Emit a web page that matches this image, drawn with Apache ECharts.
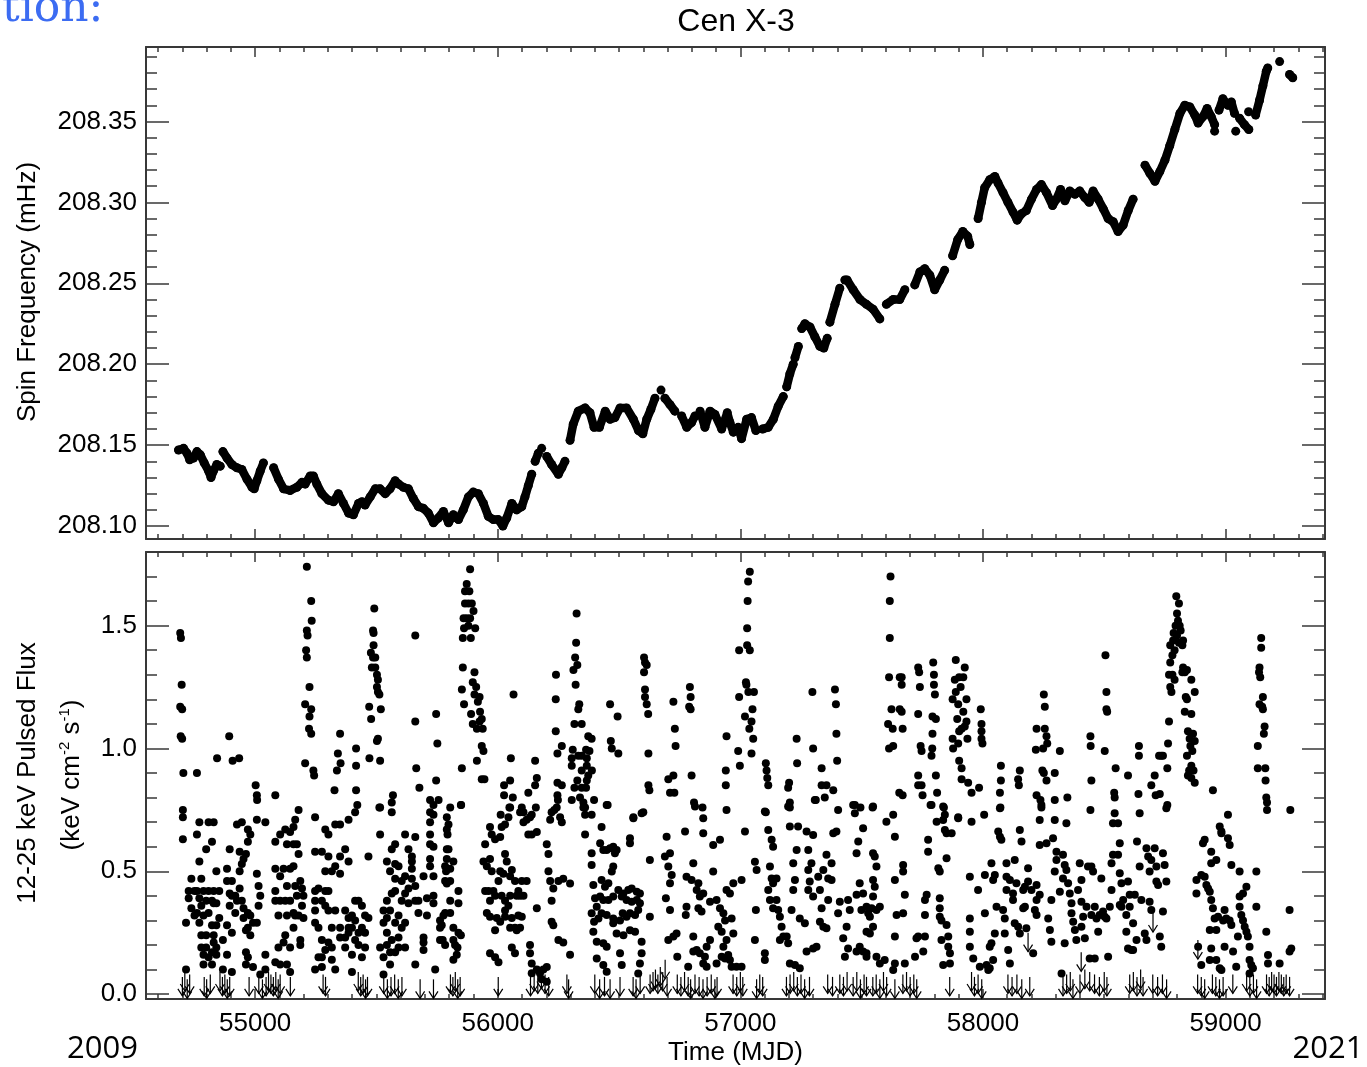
<!DOCTYPE html>
<html>
<head>
<meta charset="utf-8">
<title>Cen X-3</title>
<script src="https://cdn.jsdelivr.net/npm/echarts@6.0.0/dist/echarts.min.js"></script>
<style>
  html, body { margin: 0; padding: 0; background: #ffffff; }
  #chart { width: 1367px; height: 1067px; }
</style>
</head>
<body>
<div id="chart"></div>
<script>
// ---------------- data ----------------
// Time axis range (MJD) and value ranges of the two panels
const mjdRange = [54550, 59410];
const freqRange = [208.092, 208.396];
const fluxRange = [-0.02, 1.80];

// Spin frequency (mHz) vs MJD, one array per continuous stretch of timing solutions
const spinSegments = [
  [[54684,208.147],[54705,208.148],[54719,208.145],[54730,208.141],[54746,208.142],[54760,208.146],[54774,208.144],[54790,208.139],[54808,208.134],[54818,208.130],[54828,208.134],[54842,208.138],[54856,208.137]],
  [[54867,208.146],[54884,208.142],[54904,208.138],[54925,208.136],[54945,208.135],[54966,208.129],[54987,208.124],[54996,208.123],[55007,208.128],[55021,208.134],[55034,208.139]],
  [[55076,208.136],[55096,208.129],[55117,208.123],[55144,208.122],[55172,208.124],[55193,208.127],[55206,208.126],[55227,208.131],[55240,208.131],[55254,208.126],[55275,208.120],[55302,208.116],[55323,208.115],[55343,208.120],[55364,208.114],[55385,208.108],[55405,208.107],[55426,208.114],[55440,208.115],[55453,208.113],[55474,208.118],[55495,208.123],[55515,208.123],[55536,208.120],[55556,208.123],[55577,208.128],[55591,208.126],[55611,208.124],[55632,208.123],[55652,208.117],[55673,208.112],[55693,208.111],[55714,208.108],[55735,208.102],[55755,208.105],[55776,208.109],[55797,208.102],[55817,208.107],[55838,208.104],[55858,208.110],[55879,208.118],[55899,208.121],[55920,208.120],[55941,208.114],[55961,208.106],[55982,208.104],[56002,208.104],[56021,208.100],[56037,208.105],[56058,208.114],[56078,208.110],[56099,208.112],[56112,208.118],[56126,208.125],[56140,208.132]],
  [[56154,208.140],[56167,208.145]],
  [[56181,208.148]],
  [[56202,208.143],[56222,208.138],[56250,208.132],[56264,208.136],[56277,208.140]],
  [[56298,208.153],[56311,208.163],[56332,208.171],[56360,208.173],[56380,208.170],[56397,208.161],[56419,208.161],[56443,208.171],[56463,208.166],[56483,208.167],[56504,208.173],[56531,208.173],[56559,208.166],[56580,208.159],[56598,208.157],[56614,208.166],[56631,208.172],[56648,208.179]],
  [[56673,208.184]],
  [[56689,208.179],[56710,208.175],[56730,208.171]],
  [[56758,208.168],[56779,208.161],[56799,208.164],[56813,208.168]],
  [[56834,208.171],[56854,208.161],[56875,208.171],[56895,208.169],[56923,208.160],[56946,208.170],[56957,208.164],[56971,208.158],[56991,208.161],[57005,208.154],[57026,208.166],[57046,208.167],[57064,208.159]],
  [[57092,208.160],[57115,208.161],[57136,208.166],[57156,208.174],[57177,208.180]],
  [[57191,208.186],[57204,208.194],[57218,208.200]],
  [[57225,208.204],[57239,208.211]],
  [[57253,208.222],[57266,208.225],[57287,208.223],[57307,208.217],[57328,208.211],[57344,208.210],[57358,208.216]],
  [[57369,208.226],[57390,208.237],[57410,208.247]],
  [[57431,208.252],[57440,208.252],[57465,208.246],[57493,208.240],[57520,208.237],[57547,208.234],[57575,208.228]],
  [[57602,208.237],[57630,208.240],[57657,208.240],[57678,208.246]],
  [[57719,208.249],[57740,208.257],[57760,208.259],[57781,208.255],[57801,208.246],[57822,208.252],[57842,208.258]],
  [[57875,208.267],[57896,208.277],[57917,208.282],[57937,208.279],[57946,208.274]],
  [[57980,208.290],[57994,208.300],[58007,208.309],[58028,208.314],[58049,208.316],[58062,208.312],[58083,208.306],[58103,208.300],[58124,208.294],[58141,208.289],[58159,208.293],[58179,208.295],[58200,208.302],[58221,208.308],[58241,208.311],[58262,208.306],[58287,208.298],[58303,208.302],[58320,208.308],[58338,208.301],[58358,208.307],[58379,208.305],[58399,208.307],[58420,208.303],[58438,208.300],[58454,208.307],[58475,208.302],[58496,208.296],[58516,208.290],[58537,208.288],[58557,208.282],[58578,208.286],[58599,208.295],[58619,208.302]],
  [[58668,208.323],[58688,208.318],[58709,208.313],[58729,208.319],[58750,208.326],[58770,208.335],[58791,208.345],[58812,208.355],[58832,208.360],[58853,208.359],[58873,208.354],[58887,208.349],[58907,208.353],[58924,208.358],[58941,208.353],[58955,208.348]],
  [[58955,208.344]],
  [[58973,208.357],[58989,208.364],[59010,208.360],[59024,208.362],[59037,208.355]],
  [[59042,208.344]],
  [[59058,208.352],[59078,208.348],[59096,208.345]],
  [[59095,208.356]],
  [[59124,208.354],[59140,208.363],[59154,208.372],[59168,208.381],[59174,208.383]],
  [[59223,208.387]],
  [[59264,208.379],[59277,208.377]]
];

// 12-25 keV pulsed flux (keV cm^-2 s^-1), [MJD, flux]
const flux2008to2010 = [
  [54691,1.47],[54694,1.45],[54697,1.26],[54691,1.17],[54699,1.16],[54693,1.05],[54699,1.04],[54704,0.90],[54760,0.90],[54843,0.96],[54893,1.05],[54907,0.95],[54934,0.96],[55002,0.85],[55007,0.81],[55008,0.79],[55083,0.81],
  [54702,0.75],[54702,0.72],[54702,0.63],[54715,0.29],[54715,0.10],[54726,0.42],[54726,0.39],[54737,0.47],[54737,0.35],[54750,0.32],[54750,0.42],[54760,0.65],[54760,0.42],[54760,0.33],[54770,0.70],[54770,0.54],[54770,0.39],[54770,0.29],[54778,0.47],[54778,0.36],[54778,0.24],[54778,0.19],[54787,0.42],[54787,0.32],[54787,0.16],[54787,0.12],[54798,0.59],[54798,0.38],[54798,0.24],[54798,0.19],[54808,0.70],[54808,0.42],[54808,0.33],[54808,0.15],[54822,0.62],[54822,0.38],[54822,0.28],[54822,0.17],[54822,0.12],[54829,0.70],[54829,0.42],[54829,0.37],[54829,0.24],[54829,0.21],[54840,0.50],[54840,0.37],[54840,0.28],[54840,0.19],[54840,0.16],[54852,0.42],[54852,0.31],[54867,0.22],[54867,0.10],[54884,0.51],[54884,0.46],[54884,0.28],[54884,0.16],[54895,0.59],[54895,0.41],[54895,0.36],[54904,0.46],[54904,0.40],[54904,0.25],[54904,0.09],[54918,0.40],[54918,0.33],[54925,0.69],[54925,0.38],[54936,0.50],[54936,0.43],[54936,0.58],[54945,0.53],[54945,0.38],[54945,0.70],[54952,0.55],[54952,0.35],[54952,0.31],[54962,0.57],[54962,0.26],[54962,0.12],[54962,0.17],[54970,0.62],[54970,0.67],[54970,0.33],[54970,0.27],[54970,0.15],[54980,0.65],[54980,0.24],[54980,0.32],[54991,0.11],[54991,0.29],
  [55007,0.71],[55007,0.49],[55007,0.29],[55014,0.44],[55014,0.36],[55021,0.40],[55021,0.08],[55042,0.70],[55042,0.16],[55042,0.10],[55083,0.62],[55083,0.51],[55083,0.42],[55083,0.38],[55083,0.13],[55096,0.32],[55096,0.19],[55103,0.65],[55103,0.48],[55103,0.38],[55103,0.12],[55117,0.51],[55117,0.21],[55124,0.67],[55124,0.38],[55124,0.24],[55131,0.61],[55131,0.44],[55131,0.32],[55131,0.12],[55144,0.66],[55144,0.51],[55144,0.38],[55144,0.19],[55144,0.09],[55158,0.68],[55158,0.61],[55158,0.52],[55158,0.33],[55158,0.27],[55165,0.71],[55165,0.44],[55165,0.32],[55172,0.61],[55172,0.40],[55179,0.75],[55179,0.57],[55179,0.32],[55186,0.46],[55186,0.22],[55186,0.20],[55193,0.43],[55193,0.36],[55199,0.40],[55199,0.31],
  [55213,1.74],[55231,1.60],[55233,1.52],[55213,1.48],[55216,1.46],[55210,1.40],[55213,1.37],[55224,1.25],[55206,1.18],[55231,1.16],[55224,1.13],[55222,1.08],[55231,1.06],[55206,0.94],[55240,0.91],[55243,0.89],
  [55247,0.72],[55247,0.58],[55247,0.42],[55247,0.38],[55247,0.34],[55247,0.29],[55247,0.10],[55261,0.43],[55261,0.27],[55261,0.15],[55275,0.58],[55275,0.38],[55275,0.22],[55275,0.15],[55275,0.11],[55289,0.67],[55289,0.50],[55289,0.42],[55289,0.36],[55289,0.18],[55302,0.65],[55302,0.56],[55302,0.42],[55302,0.34],[55302,0.21],[55316,0.50],[55316,0.27],[55316,0.19],[55316,0.14],[55330,0.69],[55330,0.52],[55330,0.34],[55330,0.10],[55350,0.69],[55350,0.56],[55350,0.49],[55350,0.27],[55350,0.23],[55371,0.59],[55371,0.34],[55371,0.23],[55371,0.19],[55385,0.71],[55385,0.54],[55385,0.31],[55385,0.27],[55385,0.25],[55399,0.32],[55399,0.27],[55399,0.16],[55399,0.09],[55412,0.74],[55412,0.38],[55412,0.30],[55412,0.22],[55426,0.38],[55426,0.25],[55426,0.20],[55440,0.36],[55440,0.27],[55440,0.15],[55453,0.32],[55453,0.25],[55453,0.19],[55467,0.56],[55467,0.31],
  [55327,0.83],[55337,0.91],[55341,0.98],[55350,1.06],[55352,0.94],[55416,1.00],[55416,0.93],[55416,0.83],[55421,0.77],
  [55491,1.57],[55486,1.48],[55488,1.47],[55488,1.42],[55477,1.39],[55486,1.37],[55495,1.37],[55481,1.33],[55495,1.33],[55502,1.30],[55506,1.28],[55502,1.25],[55506,1.23],[55512,1.22],[55470,1.17],[55518,1.16],[55478,1.12],[55506,1.04],[55502,1.03],[55471,0.96],[55515,0.95],[55512,0.76]
];

const flux2010to2012 = [
  [55515,0.76],[55515,0.65],[55515,0.19],[55529,0.34],[55529,0.29],[55529,0.15],[55529,0.08],[55543,0.54],[55543,0.38],[55543,0.31],[55543,0.25],[55543,0.20],[55556,0.50],[55556,0.34],[55556,0.17],[55556,0.12],[55563,0.78],[55563,0.74],[55563,0.59],[55563,0.41],[55563,0.22],[55568,0.81],[55577,0.61],[55577,0.53],[55577,0.47],[55577,0.42],[55577,0.29],[55577,0.17],[55591,0.52],[55591,0.32],[55591,0.23],[55591,0.19],[55604,0.46],[55604,0.38],[55604,0.27],[55618,0.65],[55618,0.48],[55618,0.41],[55618,0.29],[55618,0.19],[55632,0.59],[55632,0.43],[55632,0.37],[55646,0.56],[55646,0.54],[55646,0.51],[55646,0.47],
  [55660,1.46],[55660,1.11],[55664,0.92],[55677,0.84],[55660,0.64],[55660,0.44],[55660,0.38],[55660,0.12],[55673,0.38],[55673,0.33],[55694,0.48],[55694,0.23],[55694,0.21],[55694,0.18],[55708,0.39],[55708,0.32],[55721,0.79],[55721,0.74],[55721,0.70],[55721,0.65],[55721,0.61],[55721,0.55],[55721,0.52],[55735,0.77],[55735,0.73],[55735,0.60],[55735,0.48],[55735,0.40],[55735,0.37],[55742,0.10],[55746,1.14],[55751,1.02],[55746,0.87],[55756,0.79],[55762,0.30],[55762,0.27],[55762,0.22],[55776,0.32],[55769,0.28],[55773,0.22],[55783,0.52],[55783,0.33],[55783,0.20],[55790,0.72],[55790,0.67],[55790,0.59],[55790,0.45],[55797,0.69],[55793,0.65],[55797,0.59],[55790,0.55],[55787,0.50],[55783,0.46],[55804,0.51],[55804,0.46],[55804,0.38],[55804,0.33],[55804,0.76],[55817,0.54],[55817,0.22],[55817,0.14],[55817,0.27],[55838,0.25],[55848,0.24],[55824,0.20],[55834,0.19],[55831,0.16],[55838,0.42],[55838,0.37],[55848,0.77],
  [55886,1.73],[55872,1.67],[55865,1.64],[55883,1.64],[55865,1.59],[55879,1.59],[55893,1.59],[55900,1.56],[55859,1.53],[55872,1.53],[55886,1.53],[55861,1.49],[55879,1.50],[55907,1.49],[55856,1.45],[55889,1.45],[55856,1.33],[55852,1.24],[55861,1.18],[55904,1.31],[55897,1.27],[55911,1.25],[55925,1.21],[55904,1.22],[55918,1.19],[55890,1.14],[55927,1.15],[55925,1.11],[55934,1.12],[55938,1.08],[55897,1.10],[55914,1.08],[55934,1.01],[55941,0.99],[55914,0.95],[55934,0.875],[55945,0.875],[55852,0.92],[55849,0.77],
  [55948,0.61],[55968,0.68],[55975,0.65],[55989,0.63],[56010,0.64],[56016,0.68],[56030,0.69],[56044,0.72],[56051,0.76],[56092,0.74],[56106,0.70],[56119,0.71],[56133,0.72],[56099,0.76],[56126,0.65],[56140,0.65],[56161,0.66],
  [55941,0.54],[55955,0.52],[55968,0.55],[55975,0.50],[55948,0.42],[55962,0.42],[55982,0.42],[56003,0.46],[56010,0.50],[56023,0.49],[56030,0.57],[56037,0.54],[56051,0.48],[56058,0.505],[56071,0.46],[56085,0.42],[56099,0.46],[56119,0.46],[56092,0.40],[56106,0.40],[56078,0.40],[56051,0.40],[56030,0.38],[56016,0.40],[55989,0.40],[55968,0.38],[55955,0.33],[55968,0.315],[55996,0.31],[56010,0.295],[56030,0.315],[56058,0.31],[56085,0.32],[56099,0.315],[56071,0.27],[56051,0.27],[56078,0.26],[56092,0.27],[55989,0.26],[56030,0.34],[56044,0.36],
  [55968,0.166],[55989,0.15],[56003,0.13],[56058,0.19],[56071,0.166],[56133,0.20],[56133,0.166],[56140,0.125],[56140,0.085],[56161,0.35],[56202,0.61],[56209,0.57],[56209,0.50],[56216,0.46],[56229,0.43],[56222,0.38],[56222,0.295],[56229,0.28],[56250,0.46],[56270,0.47],[56298,0.45],[56250,0.22],[56270,0.21],[56298,0.16],[56161,0.10],[56174,0.085],[56188,0.10],[56202,0.11],[56181,0.06],[56202,0.05],
  [56065,1.22],[56054,0.96],[56051,0.87],[56026,0.85],[56026,0.81],[56062,0.80],[56048,0.76],[56012,0.73],[56126,0.82],[56154,0.95],[56161,0.88],[56154,0.85],[56157,0.76],[56106,0.74],[56140,0.73],
  [56240,1.30],[56239,1.20],[56239,1.07],[56246,0.98],[56264,1.01],[56246,0.86],[56264,0.85],[56246,0.81],[56248,0.79],[56233,0.75],
  [56216,0.71],[56257,0.72],[56243,0.76],[56264,0.70],[56222,0.74],[56353,0.76],[56360,0.73],[56387,0.73],[56360,0.65],[56428,0.68],[56449,0.77],
  [56325,1.55],[56323,1.43],[56319,1.37],[56328,1.34],[56312,1.32],[56321,1.26],[56336,1.18],[56332,1.16],[56316,1.10],[56346,1.10],[56373,1.05],[56387,1.04],[56364,0.995],[56378,0.99],[56309,0.995],[56305,0.96],[56305,0.93],[56332,0.97],[56346,0.97],[56367,0.96],[56367,0.93],[56388,0.91],[56346,0.91],[56373,0.89],[56367,0.87],[56364,0.84],[56328,0.87],[56316,0.84],[56346,0.84],[56305,0.79],[56339,0.80],[56353,0.78],[56360,0.76],[56397,0.79],[56453,0.77],
  [56387,0.573],[56387,0.526],[56394,0.444],[56401,0.39],[56408,0.356],[56387,0.329],[56415,0.308],[56397,0.295],[56394,0.254],[56408,0.213],[56435,0.207],[56408,0.145],[56449,0.193],[56435,0.118],[56449,0.091],[56422,0.614],[56435,0.587],[56449,0.587],[56463,0.594],[56476,0.60],[56490,0.587],[56483,0.573],[56428,0.465],[56442,0.4375],[56456,0.451],[56470,0.499],[56476,0.519],[56422,0.397],[56435,0.383],[56456,0.383],[56476,0.397],[56497,0.424],[56428,0.329],[56449,0.322],[56476,0.308],[56476,0.288],[56490,0.247]
];

const flux2013to2016 = [
  [56463,1.18],[56494,1.13],[56466,1.03],[56470,1.00],[56497,0.98],
  [56511,0.397],[56518,0.41],[56538,0.424],[56552,0.43],[56573,0.417],[56504,0.30],[56515,0.329],[56531,0.315],[56545,0.329],[56566,0.322],[56579,0.342],[56531,0.383],[56552,0.376],[56573,0.383],[56518,0.24],[56545,0.26],[56566,0.254],[56504,0.166],[56511,0.118],[56545,0.634],[56545,0.614],[56559,0.716],[56593,0.736],[56627,0.546],[56627,0.315],[56586,0.37],[56586,0.41],[56593,0.213],[56593,0.166],[56586,0.125],[56579,0.084],
  [56603,1.37],[56607,1.35],[56614,1.34],[56603,1.31],[56607,1.24],[56607,1.21],[56614,1.18],[56620,1.14],[56621,0.98],[56621,0.85],[56625,0.83],[56600,0.74],[56559,0.72],
  [56724,1.19],[56730,1.08],[56733,1.01],[56724,0.89],[56703,0.875],[56710,0.82],[56728,0.82],[56792,1.25],[56795,1.21],[56789,1.17],[56795,1.16],[56799,0.89],[56809,0.78],[56844,0.76],[56943,1.05],[56940,0.91],[56940,0.85],[56943,0.75],
  [56696,0.641],[56689,0.56],[56710,0.573],[56703,0.519],[56717,0.485],[56710,0.451],[56710,0.342],[56693,0.39],[56724,0.234],[56703,0.22],[56737,0.247],[56740,0.152],[56772,0.662],[56778,0.478],[56799,0.465],[56806,0.533],[56778,0.356],[56775,0.322],[56827,0.451],[56820,0.424],[56833,0.397],[56847,0.41],[56827,0.349],[56840,0.336],[56806,0.234],[56820,0.179],[56833,0.166],[56854,0.152],[56861,0.193],[56875,0.22],[56806,0.173],[56847,0.125],[56861,0.111],[56785,0.111],[56813,0.764],[56847,0.716],[56847,0.655],[56888,0.607],[56916,0.628],[56888,0.499],[56875,0.376],[56902,0.383],[56916,0.349],[56930,0.329],[56909,0.274],[56923,0.254],[56937,0.30],[56943,0.424],[56957,0.41],[56971,0.451],[56964,0.308],[56971,0.247],[56943,0.22],[56930,0.193],[56937,0.145],[56902,0.125],[56923,0.152],[56950,0.159],[56957,0.139],[56964,0.111],[56984,0.111],[57005,0.111],[57005,0.465],[57019,0.662],
  [57039,1.72],[57032,1.68],[57030,1.60],[57028,1.49],[56995,1.40],[57028,1.42],[57039,1.40],[57023,1.27],[57025,1.26],[56995,1.21],[57033,1.23],[57056,1.23],[57050,1.16],[57019,1.13],[57046,1.11],[57037,1.08],[57053,1.04],[57046,0.98],[56991,0.99],[56998,0.93],
  [57105,0.94],[57108,0.91],[57111,0.88],[57115,0.85],[57105,0.74],
  [57060,0.539],[57067,0.505],[57064,0.342],[57060,0.22],[57101,0.166],[57101,0.139],[57101,0.743],[57115,0.668],[57129,0.628],[57135,0.60],[57122,0.519],[57129,0.471],[57135,0.451],[57115,0.424],[57122,0.383],[57135,0.349],[57149,0.383],[57156,0.342],[57163,0.315],[57170,0.274],[57177,0.234],[57163,0.22],[57191,0.234],[57197,0.207],[57149,0.471],
  [57232,1.04],[57234,0.94],[57201,0.86],[57197,0.84],[57204,0.78],[57204,0.76],[57297,1.23],[57300,1.00],[57335,0.92],[57335,0.85],[57355,0.85],[57311,0.79],[57348,0.80],[57390,1.24],[57394,1.18],[57396,1.06],[57399,0.95],[57383,0.83],[57403,0.75],
  [57197,0.764],[57204,0.682],[57238,0.682],[57232,0.587],[57218,0.533],[57225,0.465],[57218,0.424],[57211,0.342],[57245,0.308],[57266,0.288],[57273,0.173],[57300,0.186],[57314,0.193],[57225,0.118],[57204,0.125],[57245,0.105],[57273,0.662],[57280,0.587],[57300,0.648],[57307,0.79],[57293,0.533],[57280,0.505],[57286,0.458],[57280,0.424],[57300,0.397],[57321,0.478],[57328,0.424],[57342,0.505],[57355,0.567],[57376,0.533],[57362,0.471],[57383,0.655],[57362,0.383],[57335,0.349],[57328,0.295],[57342,0.274],[57355,0.268],[57376,0.465],[57396,0.662],[57403,0.329],[57410,0.376],
  [57424,0.227],[57431,0.152],[57444,0.186],[57438,0.274],[57451,0.342],[57444,0.383],[57465,0.77],[57472,0.736],[57479,0.573],[57479,0.404],[57486,0.621],[57492,0.451],[57499,0.342],[57506,0.675],[57506,0.41],[57520,0.356],[57527,0.329],[57534,0.315],[57541,0.349],[57547,0.764],[57547,0.573],[57554,0.56],[57561,0.519],[57547,0.465],[57554,0.4375],[57561,0.342],[57575,0.356],[57547,0.397],[57547,0.274],[57561,0.152],[57575,0.125],[57595,0.139],[57602,0.702],[57630,0.73],[57637,0.641],[57637,0.465],[57644,0.322],[57637,0.234],[57520,0.254],[57534,0.247],[57479,0.173],[57506,0.173],[57520,0.166],[57492,0.193],[57520,0.152],[57630,0.098],[57637,0.125],
  [57472,0.77],[57495,0.76],[57545,0.76],
  [57619,1.70],[57616,1.60],[57616,1.45],[57613,1.29],[57623,1.16],[57609,1.10],[57628,1.08],[57613,1.00],[57630,1.01],[57657,1.29],[57657,1.16],[57655,0.82]
];

const flux2016to2018 = [
  [57665,1.29],[57665,1.26],[57665,1.15],[57669,1.08],[57669,0.81],[57733,1.33],[57737,1.31],[57740,1.25],[57733,1.14],[57743,1.01],[57747,0.99],[57733,0.89],[57733,0.85],[57747,0.85],[57751,0.81],
  [57795,1.35],[57798,1.30],[57798,1.26],[57802,1.22],[57792,1.13],[57806,1.12],[57792,1.06],[57791,1.00],[57788,0.97],[57806,0.89],[57811,0.82],[57784,0.77],[57839,0.76],[57843,0.73],
  [57888,1.36],[57884,1.28],[57902,1.29],[57919,1.29],[57925,1.33],[57908,1.25],[57888,1.23],[57875,1.20],[57898,1.18],[57932,1.20],[57919,1.15],[57932,1.11],[57894,1.12],[57902,1.07],[57912,1.08],[57925,1.09],[57936,1.04],[57875,1.04],[57877,1.00],[57898,1.02],[57902,0.95],[57912,0.92],[57912,0.875],[57939,0.86],[57953,0.82],[57898,0.72],
  [57991,1.16],[57994,1.10],[57994,1.07],[57994,1.04],[57998,1.02],[57984,0.84],[58005,0.73],[58070,0.82],[58074,0.87],[58074,0.93],[58072,0.76],[58145,0.875],[58152,0.91],[58148,0.85],
  [57671,0.526],[57671,0.499],[57678,0.404],[57671,0.329],[57678,0.125],[57720,0.152],[57726,0.227],[57733,0.234],[57754,0.173],[57761,0.234],[57761,0.322],[57761,0.383],[57768,0.404],[57774,0.58],[57774,0.628],[57788,0.77],[57809,0.702],[57816,0.512],[57822,0.499],[57822,0.39],[57822,0.349],[57822,0.315],[57829,0.30],[57836,0.764],[57836,0.709],[57843,0.668],[57850,0.281],[57829,0.22],[57836,0.118],[57857,0.193],[57857,0.234],[57864,0.166],[57864,0.125],[57850,0.655],[57871,0.655],[57898,0.716],[57850,0.553],
  [57946,0.478],[57946,0.308],[57946,0.254],[57946,0.193],[57953,0.702],[57960,0.145],[57980,0.424],[57987,0.111],[58008,0.485],[58008,0.329],[58015,0.118],[58022,0.098],[58028,0.105],[58028,0.193],[58035,0.207],[58042,0.139],[58042,0.465],[58049,0.485],[58035,0.533],[58056,0.356],[58049,0.247],[58063,0.662],[58070,0.641],[58070,0.757],[58076,0.628],[58083,0.342],[58097,0.533],[58097,0.478],[58097,0.424],[58090,0.308],[58090,0.247],[58104,0.179],[58111,0.125],[58111,0.465],[58124,0.41],[58124,0.383],[58131,0.546],[58131,0.288],[58138,0.451],[58145,0.274],[58152,0.247],[58152,0.668],[58159,0.621],[58166,0.424],[58173,0.4375],[58166,0.349],[58173,0.356],[58179,0.268],[58186,0.512],[58186,0.458],[58200,0.424],[58207,0.166],
  [58221,1.08],[58218,0.995],[58251,1.22],[58255,1.17],[58255,1.08],[58262,1.05],[58265,1.02],[58248,1.00],[58317,0.99],[58245,0.91],[58251,0.90],[58262,0.87],[58296,0.90],[58221,0.81],[58237,0.79],[58241,0.76],[58296,0.79],[58348,0.80],
  [58221,0.444],[58221,0.383],[58214,0.342],[58221,0.322],[58234,0.404],[58234,0.709],[58234,0.607],[58241,0.77],[58262,0.614],[58269,0.308],[58276,0.261],[58282,0.383],[58282,0.213],[58289,0.634],[58296,0.709],[58296,0.499],[58303,0.546],[58303,0.58],[58317,0.417],[58324,0.084],[58330,0.567],[58330,0.471],[58337,0.526],[58337,0.207],[58344,0.696],[58344,0.505],[58351,0.451],[58358,0.41],[58365,0.37],[58365,0.329],[58372,0.295],[58379,0.261],[58385,0.22],[58392,0.424],[58399,0.533],[58406,0.465],[58406,0.376],[58406,0.274],[58413,0.315],[58420,0.227],[58427,0.356],[58433,0.519],[58440,0.145],[58447,0.322],[58447,0.519],[58454,0.499],[58461,0.356],[58461,0.145],[58468,0.308],[58475,0.254],[58481,0.322],[58488,0.471],[58495,0.336]
];

const flux2019to2021 = [
  [58443,1.05],[58444,1.01],[58447,0.87],[58443,0.75],[58505,1.38],[58509,1.23],[58509,1.16],[58512,1.15],[58502,0.99],[58547,0.92],[58541,0.82],[58543,0.80],[58598,0.89],[58643,1.01],[58643,0.97],[58641,0.815],
  [58694,0.85],[58708,0.89],[58712,0.81],[58729,0.815],[58726,0.97],[58735,0.97],[58742,0.97],[58760,0.92],[58760,0.77],[58763,1.02],[58767,1.11],
  [58797,1.62],[58808,1.59],[58800,1.55],[58804,1.52],[58794,1.50],[58811,1.50],[58786,1.47],[58815,1.48],[58800,1.46],[58784,1.44],[58825,1.44],[58808,1.43],[58772,1.42],[58790,1.40],[58781,1.38],[58822,1.42],[58772,1.35],[58767,1.30],[58781,1.30],[58790,1.28],[58772,1.25],[58777,1.23],[58825,1.33],[58832,1.31],[58822,1.31],[58841,1.32],[58859,1.28],[58873,1.23],[58836,1.21],[58841,1.20],[58832,1.15],[58859,1.14],[58845,1.07],[58866,1.06],[58852,1.04],[58873,1.03],[58855,1.01],[58863,0.99],[58841,0.97],[58859,0.93],[58850,0.91],[58868,0.91],[58845,0.89],[58859,0.88],[58873,0.86],
  [58948,0.83],[59010,0.73],
  [59147,1.45],[59147,1.41],[59140,1.33],[59138,1.31],[59143,1.29],[59154,1.21],[59140,1.18],[59151,1.17],[59154,1.16],[59133,1.01],[59133,0.92],[59164,0.92],[59165,0.87],[59168,0.80],[59171,0.78],[59171,0.75],[59161,1.09],[59158,1.06],[59267,0.75],
  [58502,0.315],[58509,0.308],[58516,0.152],[58523,0.356],[58530,0.533],[58530,0.424],[58536,0.567],[58536,0.696],[58543,0.736],[58557,0.696],[58557,0.567],[58564,0.614],[58564,0.492],[58564,0.363],[58571,0.356],[58571,0.451],[58578,0.383],[58591,0.322],[58591,0.254],[58598,0.458],[58598,0.186],[58605,0.404],[58605,0.356],[58612,0.179],[58619,0.288],[58619,0.179],[58626,0.404],[58633,0.22],[58635,0.621],[58646,0.736],[58646,0.519],[58653,0.383],[58667,0.247],[58674,0.594],[58674,0.22],[58681,0.56],[58687,0.499],[58687,0.376],[58694,0.342],[58694,0.546],[58708,0.594],[58715,0.519],[58715,0.458],[58722,0.444],[58729,0.234],[58735,0.193],[58742,0.336],[58742,0.573],[58749,0.526],[58756,0.458],[58756,0.757],
  [58880,0.465],[58880,0.41],[58887,0.193],[58900,0.485],[58907,0.614],[58914,0.628],[58914,0.478],[58921,0.444],[58928,0.43],[58935,0.417],[58941,0.58],[58941,0.533],[58941,0.383],[58948,0.349],[58955,0.308],[58962,0.546],[58962,0.261],[58969,0.315],[58976,0.682],[58983,0.662],[58983,0.655],[58990,0.30],[58996,0.342],[58996,0.193],[59003,0.308],[59010,0.634],[59017,0.607],[59017,0.30],[59024,0.526],[59024,0.281],[59031,0.173],[59044,0.111],[59051,0.234],[59058,0.499],[59058,0.397],[59058,0.356],[59065,0.322],[59072,0.30],[59079,0.274],[59086,0.254],[59092,0.234],[59099,0.193],[59099,0.139],[59106,0.118],[59127,0.499],[59127,0.356],[59168,0.254],[59175,0.159],[59175,0.125],[59223,0.125],[59264,0.342],[59264,0.173],[59271,0.186],[58935,0.139],[58962,0.139],[58976,0.105],[58983,0.098],[58900,0.118],[58941,0.186],[58935,0.261],[59086,0.437],[59072,0.41],[59113,0.105],[59099,0.084]
];

// Upper limits on the pulsed flux, [MJD, limit]
const fluxUpperLimits = [
  [54700,0.07],[54710,0.09],[54720,0.06],[54730,0.08],[54790,0.07],[54800,0.06],[54815,0.08],[54855,0.09],[54865,0.07],[54875,0.08],[54885,0.06],[54895,0.07],[54975,0.07],
  [55015,0.08],[55030,0.06],[55045,0.07],[55055,0.09],[55065,0.08],[55075,0.07],[55085,0.09],[55095,0.06],[55103,0.08],[55145,0.07],[55280,0.08],[55290,0.07],
  [55425,0.09],[55435,0.07],[55445,0.08],[55455,0.06],[55463,0.07],[55530,0.08],[55545,0.06],[55560,0.07],[55575,0.08],[55590,0.06],[55605,0.07],[55680,0.06],[55735,0.06],
  [55805,0.08],[55815,0.07],[55825,0.09],[55835,0.06],[55845,0.07],[56002,0.07],[56135,0.07],[56150,0.09],[56165,0.08],[56180,0.10],[56195,0.08],[56210,0.07],[56285,0.08],[56292,0.06],
  [56400,0.08],[56420,0.06],[56440,0.07],[56463,0.06],[56504,0.07],[56558,0.07],[56570,0.06],[56587,0.08],[56628,0.08],[56640,0.09],[56650,0.10],[56660,0.08],[56670,0.11],[56680,0.09],[56690,0.14],[56698,0.07],
  [56740,0.08],[56755,0.07],[56770,0.09],[56785,0.07],[56795,0.06],[56813,0.08],[56830,0.07],[56846,0.06],[56863,0.07],[56880,0.08],[56895,0.06],[56904,0.07],[56970,0.08],[56985,0.07],[57000,0.09],[57010,0.07],
  [57067,0.06],[57080,0.08],[57092,0.07],[57190,0.07],[57205,0.08],[57220,0.09],[57235,0.07],[57250,0.08],[57265,0.06],[57285,0.07],[57360,0.08],[57380,0.07],[57410,0.08],[57425,0.07],[57440,0.09],
  [57465,0.07],[57480,0.09],[57495,0.06],[57510,0.08],[57520,0.07],[57546,0.07],[57560,0.08],[57575,0.06],[57590,0.09],[57603,0.07],[57637,0.06],[57670,0.08],[57685,0.09],[57700,0.07],[57715,0.08],[57727,0.06],
  [57863,0.07],[57953,0.09],[57965,0.07],[57980,0.08],[57995,0.06],[58103,0.08],[58120,0.07],[58140,0.08],[58160,0.06],[58186,0.25],[58193,0.07],
  [58330,0.07],[58345,0.08],[58360,0.09],[58371,0.06],[58400,0.08],[58405,0.17],[58420,0.10],[58440,0.09],[58460,0.08],[58480,0.07],[58500,0.09],[58511,0.07],
  [58605,0.08],[58620,0.09],[58635,0.07],[58650,0.10],[58660,0.07],[58700,0.08],[58701,0.33],[58720,0.07],[58740,0.08],[58757,0.06],
  [58885,0.08],[58886,0.22],[58900,0.07],[58914,0.06],[58946,0.08],[58960,0.07],[58975,0.06],[58990,0.07],[59030,0.08],
  [59087,0.09],[59100,0.07],[59115,0.08],[59128,0.06],[59169,0.08],[59180,0.07],[59190,0.09],[59200,0.08],[59210,0.07],[59220,0.09],[59230,0.08],[59240,0.07],[59250,0.08],[59264,0.07]
];

// ---------------- styling ----------------
const INK = '#000000';
const FRAME = '#383838';
const AXIS_FONT = '"Liberation Sans", Arial, Helvetica, sans-serif';

function isMultiple(v, step) {
  const r = v / step;
  return Math.abs(r - Math.round(r)) < 1e-6;
}

function timeAxis(gridIndex, position, withLabels) {
  return {
    type: 'value', gridIndex: gridIndex, position: position,
    min: mjdRange[0], max: mjdRange[1], splitNumber: 5,
    axisLine: { show: true, onZero: false, lineStyle: { color: FRAME, width: 2 } },
    axisTick: { show: true, inside: true, length: 10, lineStyle: { color: FRAME, width: 1.5 } },
    minorTick: { show: true, splitNumber: 10, length: 5, lineStyle: { color: FRAME, width: 1.5 } },
    splitLine: { show: false },
    axisLabel: {
      show: withLabels, margin: 12, color: INK, fontSize: 26, fontFamily: AXIS_FONT,
      formatter: v => isMultiple(v, 1000) ? String(Math.round(v)) : ''
    }
  };
}

function valueAxis(gridIndex, position, range, step, digits, withLabels) {
  return {
    type: 'value', gridIndex: gridIndex, position: position,
    min: range[0], max: range[1], splitNumber: step === 0.5 ? 4 : 5,
    axisLine: { show: true, onZero: false, lineStyle: { color: FRAME, width: 2 } },
    axisTick: { show: true, inside: true, length: 23, lineStyle: { color: FRAME, width: 1.5 } },
    minorTick: { show: true, splitNumber: 5, length: 11, lineStyle: { color: FRAME, width: 1.5 } },
    splitLine: { show: false },
    axisLabel: {
      show: withLabels, margin: 9, color: INK, fontSize: 26, fontFamily: AXIS_FONT,
      formatter: v => isMultiple(v, step) ? v.toFixed(digits) : ''
    }
  };
}

// spin history as one line with breaks between stretches
const spinData = [];
spinSegments.forEach((seg, i) => {
  if (i > 0) spinData.push(['-', '-']);
  seg.forEach(p => spinData.push(p));
});

const fluxData = [].concat(flux2008to2010, flux2010to2012, flux2013to2016, flux2016to2018, flux2019to2021);

const chart = echarts.init(document.getElementById('chart'), null, { renderer: 'canvas' });

const option = {
  animation: false,
  backgroundColor: '#ffffff',
  grid: [
    { left: 146, top: 47, width: 1179, height: 492 },
    { left: 146, top: 552, width: 1179, height: 447 }
  ],
  xAxis: [
    timeAxis(0, 'bottom', false),
    timeAxis(0, 'top', false),
    Object.assign(timeAxis(1, 'bottom', true), {
      name: 'Time (MJD)', nameLocation: 'middle', nameGap: 41,
      nameTextStyle: { color: INK, fontSize: 26, fontFamily: AXIS_FONT }
    }),
    timeAxis(1, 'top', false)
  ],
  yAxis: [
    valueAxis(0, 'left', freqRange, 0.05, 2, true),
    valueAxis(0, 'right', freqRange, 0.05, 2, false),
    valueAxis(1, 'left', fluxRange, 0.5, 1, true),
    valueAxis(1, 'right', fluxRange, 0.5, 1, false)
  ],
  series: [
    {
      name: 'Spin frequency', type: 'line', xAxisIndex: 0, yAxisIndex: 0,
      data: spinData, connectNulls: false,
      symbol: 'circle', symbolSize: 9, showSymbol: true,
      itemStyle: { color: INK, opacity: 1 },
      lineStyle: { color: INK, width: 8.5, cap: 'round', join: 'round', opacity: 1 },
      z: 3
    },
    {
      name: 'Pulsed flux', type: 'scatter', xAxisIndex: 2, yAxisIndex: 2,
      data: fluxData, symbol: 'circle', symbolSize: 8,
      itemStyle: { color: INK, opacity: 1 }, z: 3
    },
    {
      name: 'Upper limits', type: 'custom', xAxisIndex: 2, yAxisIndex: 2,
      data: fluxUpperLimits, z: 2,
      renderItem: function (params, api) {
        const top = api.coord([api.value(0), api.value(1)]);
        const tipY = top[1] + 19;
        const x = top[0];
        return {
          type: 'group',
          children: [
            { type: 'line', shape: { x1: x, y1: top[1], x2: x, y2: tipY },
              style: { stroke: INK, lineWidth: 1.2 } },
            { type: 'polyline', shape: { points: [[x - 4.5, tipY - 7], [x, tipY], [x + 4.5, tipY - 7]] },
              style: { stroke: INK, fill: null, lineWidth: 1.2 } }
          ]
        };
      }
    }
  ],
  graphic: [
    { type: 'text', x: 2, y: 10,
      style: { text: 'tion:', fill: '#3c6cf2', font: '44px "DejaVu Serif", serif', textAlign: 'left', textVerticalAlign: 'middle' } },
    { type: 'text', x: 736, y: 22,
      style: { text: 'Cen X-3', fill: INK, font: '32px "Liberation Sans", Arial, sans-serif', textAlign: 'center', textVerticalAlign: 'middle' } },
    { type: 'text', x: 28, y: 292, rotation: Math.PI / 2,
      style: { text: 'Spin Frequency (mHz)', fill: INK, font: '26px "Liberation Sans", Arial, sans-serif', textAlign: 'center', textVerticalAlign: 'middle' } },
    { type: 'text', x: 28, y: 773, rotation: Math.PI / 2,
      style: { text: '12-25 keV Pulsed Flux', fill: INK, font: '26px "Liberation Sans", Arial, sans-serif', textAlign: 'center', textVerticalAlign: 'middle' } },
    { type: 'text', x: 72, y: 775, rotation: Math.PI / 2,
      style: {
        text: '{n|(keV cm}{s|-2}{n| s}{s|-1}{n|)}',
        textAlign: 'center', textVerticalAlign: 'middle',
        rich: {
          n: { fill: INK, fontSize: 26, fontFamily: AXIS_FONT, lineHeight: 30, verticalAlign: 'middle' },
          s: { fill: INK, fontSize: 15, fontFamily: AXIS_FONT, lineHeight: 15, verticalAlign: 'top' }
        }
      } },
    { type: 'text', x: 102.5, y: 1049,
      style: { text: '2009', fill: INK, font: '31px "Open Sans", "Noto Sans", sans-serif', textAlign: 'center', textVerticalAlign: 'middle' } },
    { type: 'text', x: 1328, y: 1049,
      style: { text: '2021', fill: INK, font: '31px "Open Sans", "Noto Sans", sans-serif', textAlign: 'center', textVerticalAlign: 'middle' } }
  ]
};

chart.setOption(option);
</script>
</body>
</html>
